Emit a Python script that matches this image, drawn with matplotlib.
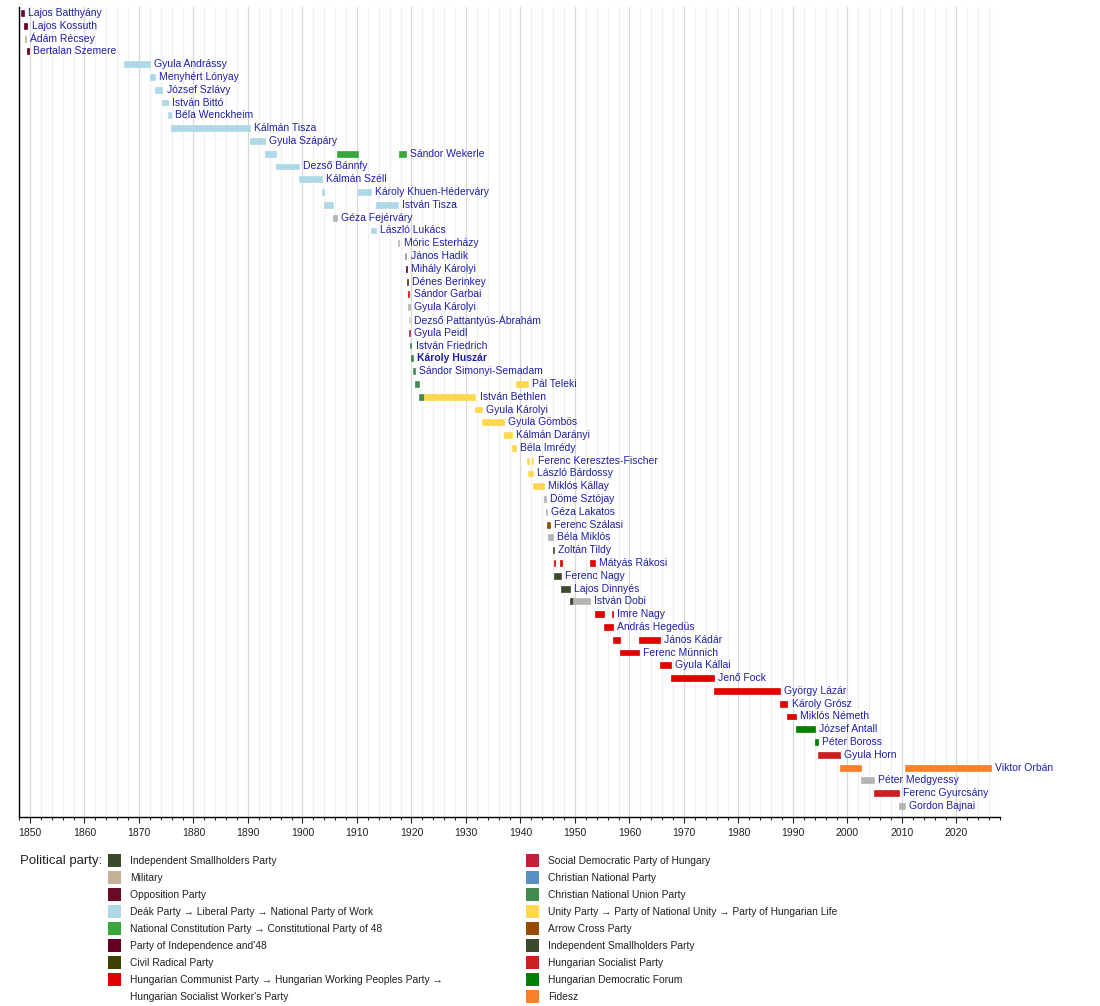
import matplotlib
matplotlib.use("Agg")
import matplotlib.pyplot as plt
from matplotlib.patches import Rectangle

plt.rcParams['font.family'] = ['Liberation Sans', 'DejaVu Sans']

W, H = 1100, 1006

# prime ministers, top to bottom
names = [
    "Lajos Batthyány", "Lajos Kossuth", "Ádám Récsey", "Bertalan Szemere",
    "Gyula Andrássy", "Menyhért Lónyay", "József Szlávy", "István Bittó",
    "Béla Wenckheim", "Kálmán Tisza", "Gyula Szápáry", "Sándor Wekerle",
    "Dezső Bánnfy", "Kálmán Széll", "Károly Khuen-Héderváry", "István Tisza",
    "Géza Fejérváry", "László Lukács", "Móric Esterházy", "János Hadik",
    "Mihály Károlyi", "Dénes Berinkey", "Sándor Garbai", "Gyula Károlyi",
    "Dezső Pattantyús-Ábrahám", "Gyula Peidl", "István Friedrich", "Károly Huszár",
    "Sándor Simonyi-Semadam", "Pál Teleki", "István Bethlen", "Gyula Károlyi",
    "Gyula Gömbös", "Kálmán Darányi", "Béla Imrédy", "Ferenc Keresztes-Fischer",
    "László Bárdossy", "Miklós Kállay", "Döme Sztójay", "Géza Lakatos",
    "Ferenc Szálasi", "Béla Miklós", "Zoltán Tildy", "Mátyás Rákosi",
    "Ferenc Nagy", "Lajos Dinnyés", "István Dobi", "Imre Nagy",
    "András Hegedüs", "János Kádár", "Ferenc Münnich", "Gyula Kállai",
    "Jenő Fock", "György Lázár", "Károly Grósz", "Miklós Németh",
    "József Antall", "Péter Boross", "Gyula Horn", "Viktor Orbán",
    "Péter Medgyessy", "Ferenc Gyurcsány", "Gordon Bajnai",
]
bold_rows = [27]   # Károly Huszár

# terms in office: row index, start year, end year, party key
term_row = [0, 1, 2, 3, 4, 5, 6, 7, 8, 9, 10, 11, 11, 11, 12, 13, 14, 14, 15, 15,
            16, 17, 18, 19, 20, 21, 22, 23, 24, 25, 26, 27, 28, 29, 29, 30, 30,
            31, 32, 33, 34, 35, 35, 36, 37, 38, 39, 40, 41, 42, 43, 43, 43,
            44, 45, 46, 46, 47, 47, 48, 49, 49, 50, 51, 52, 53, 54, 55, 56, 57,
            58, 59, 59, 60, 61, 62]
term_start = [1848.3, 1849.0, 1849.05, 1849.5, 1867.25, 1872.0, 1873.0, 1874.3,
              1875.3, 1875.95, 1890.35, 1893.05, 1906.4, 1917.75, 1895.2, 1899.3,
              1903.6, 1910.25, 1903.95, 1913.55, 1905.55, 1912.5, 1917.5, 1918.85,
              1918.95, 1919.12, 1919.3, 1919.45, 1919.55, 1919.62, 1919.7, 1920.0,
              1920.3, 1920.65, 1939.23, 1921.4, 1922.4, 1931.75, 1932.9, 1936.9,
              1938.5, 1941.3, 1942.2, 1941.4, 1942.28, 1944.32, 1944.7, 1944.9,
              1945.05, 1946.0, 1946.1, 1947.35, 1952.7, 1946.2, 1947.5, 1949.05,
              1949.7, 1953.6, 1956.85, 1955.4, 1956.95, 1961.8, 1958.2, 1965.6,
              1967.55, 1975.55, 1987.6, 1989.0, 1990.5, 1994.05, 1994.65, 1998.6,
              2010.5, 2002.5, 2004.8, 2009.4]
term_end = [1848.9, 1849.55, 1849.3, 1849.8, 1872.0, 1873.0, 1874.3, 1875.3,
            1875.95, 1890.35, 1893.05, 1895.2, 1910.25, 1918.95, 1899.3, 1903.6,
            1903.95, 1912.5, 1905.55, 1917.55, 1906.4, 1913.55, 1917.8, 1919.1,
            1919.12, 1919.3, 1919.65, 1919.75, 1919.75, 1919.8, 1920.0, 1920.3,
            1920.65, 1921.4, 1941.35, 1922.4, 1931.75, 1932.9, 1936.9, 1938.5,
            1939.23, 1941.5, 1942.4, 1942.28, 1944.32, 1944.75, 1944.9, 1945.4,
            1946.0, 1946.2, 1946.3, 1947.55, 1953.6, 1947.5, 1949.05, 1949.7,
            1952.7, 1955.4, 1957.05, 1956.9, 1958.2, 1965.6, 1961.8, 1967.55,
            1975.55, 1987.6, 1989.0, 1990.5, 1994.05, 1994.65, 1998.6, 2002.5,
            2026.4, 2004.8, 2009.4, 2010.5]
term_party = ["opp", "indep48", "military", "indep48", "deak", "deak", "deak", "deak",
              "deak", "deak", "deak", "deak", "const", "const", "deak", "deak",
              "deak", "deak", "deak", "deak", "none", "deak", "none", "hadik",
              "indep48", "radical", "communist", "none", "pale", "socdem", "cnu", "cnu",
              "cnu", "cnu", "unity", "cnu", "unity", "unity", "unity", "unity",
              "unity", "unity", "unity", "unity", "unity", "none", "none", "arrow",
              "none", "smallh", "communist", "communist", "communist", "smallh", "smallh", "smallh",
              "none", "communist", "communist", "communist", "communist", "communist", "communist", "communist",
              "communist", "communist", "communist", "communist", "mdf", "mdf", "mszp", "fidesz",
              "fidesz", "none", "mszp", "none"]

party_color = {
    "opp": "#6b0a24", "indep48": "#660022", "military": "#c4b096",
    "deak": "#add8e6", "const": "#3aa63a", "radical": "#404000",
    "communist": "#e00000", "socdem": "#c41e3a", "cnp": "#5b8fc4",
    "cnu": "#448a50", "unity": "#ffd84d", "arrow": "#964b00",
    "smallh": "#3b4a2c", "mszp": "#cc1f1f", "mdf": "#008000",
    "fidesz": "#ff7f27", "none": "#b4b4b4", "pale": "#d6d0c4",
    "hadik": "#8fa08f",
}

legend_left = [
    ("Independent Smallholders Party", "smallh"),
    ("Military", "military"),
    ("Opposition Party", "opp"),
    ("Deák Party → Liberal Party → National Party of Work", "deak"),
    ("National Constitution Party → Constitutional Party of 48", "const"),
    ("Party of Independence and'48", "indep48"),
    ("Civil Radical Party", "radical"),
    ("Hungarian Communist Party → Hungarian Working Peoples Party →", "communist"),
    ("Hungarian Socialist Worker's Party", None),
]
legend_right = [
    ("Social Democratic Party of Hungary", "socdem"),
    ("Christian National Party", "cnp"),
    ("Christian National Union Party", "cnu"),
    ("Unity Party → Party of National Unity → Party of Hungarian Life", "unity"),
    ("Arrow Cross Party", "arrow"),
    ("Independent Smallholders Party", "smallh"),
    ("Hungarian Socialist Party", "mszp"),
    ("Hungarian Democratic Forum", "mdf"),
    ("Fidesz", "fidesz"),
]

LINK = "#1f1fab"
TXT = "#222222"

fig = plt.figure(figsize=(W / 100, H / 100), dpi=100)
fig.patch.set_facecolor("white")
ax = fig.add_axes([19 / W, 1 - 817 / H, (1000 - 19) / W, (817 - 7) / H])

ax.set_xlim(1848, 2028)
ax.set_ylim(62.86, -0.47)

for r, s, e, p in zip(term_row, term_start, term_end, term_party):
    c = party_color[p]
    ax.barh(r, e - s, left=s, height=0.46, color=c, edgecolor=c,
            linewidth=0.5, zorder=3)

for i, name in enumerate(names):
    end = max(e for r, e in zip(term_row, term_end) if r == i)
    ax.annotate(name, xy=(end, i), xytext=(3, 0), textcoords="offset points",
                ha="left", va="center", fontsize=7.5, color=LINK,
                fontweight="bold" if i in bold_rows else "normal", zorder=4)

ax.set_xticks(range(1850, 2021, 10))
ax.set_xticks(range(1848, 2029, 2), minor=True)
ax.set_yticks([])
ax.grid(which="major", axis="x", color="#d8d8d8", lw=0.9, zorder=0)
ax.grid(which="minor", axis="x", color="#f0f0f0", lw=0.9, zorder=0)
ax.tick_params(axis="x", which="major", length=4, width=0.8, labelsize=7.5,
               colors=TXT, pad=4)
ax.tick_params(axis="x", which="minor", length=2.5, width=0.8, colors=TXT)
for side in ("top", "right"):
    ax.spines[side].set_visible(False)
for side in ("left", "bottom"):
    ax.spines[side].set_linewidth(1.0)
    ax.spines[side].set_color("black")

# legend, placed in figure pixels
fig.text(20 / W, 1 - 864 / H, "Political party:", fontsize=9.5, color=TXT,
         ha="left", va="baseline")


def draw_legend(items, sw_x, txt_x):
    for k, (label, key) in enumerate(items):
        yc = 860 + 17 * k
        if key is not None:
            fig.patches.append(Rectangle((sw_x / W, 1 - (yc + 6.5) / H), 13 / W, 13 / H,
                                         transform=fig.transFigure,
                                         facecolor=party_color[key], edgecolor="none"))
        fig.text(txt_x / W, 1 - (yc + 4) / H, label, fontsize=7.4, color=TXT,
                 ha="left", va="baseline")


draw_legend(legend_left, 108, 130)
draw_legend(legend_right, 526, 548)

fig.savefig("out.png", dpi=100, facecolor="white")
